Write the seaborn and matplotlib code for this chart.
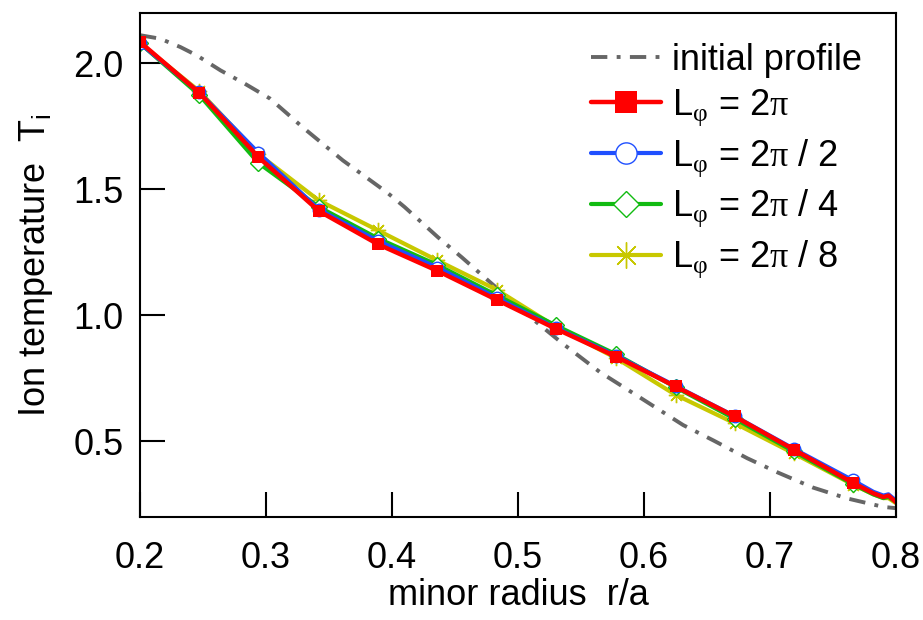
import matplotlib
matplotlib.use("Agg")
import matplotlib.pyplot as plt
import seaborn as sns
import pandas as pd

# ---------------- data ----------------
r_init = [0.200, 0.216, 0.232, 0.245, 0.264, 0.283, 0.303, 0.317, 0.329, 0.361,
          0.396, 0.410, 0.4365, 0.4555, 0.478, 0.500, 0.513, 0.535, 0.565, 0.595,
          0.631, 0.655, 0.682, 0.706, 0.734, 0.761, 0.790, 0.800]
T_init = [2.112, 2.098, 2.065, 2.032, 1.972, 1.920, 1.861, 1.800, 1.747, 1.615,
          1.488, 1.430, 1.310, 1.230, 1.131, 1.036, 0.980, 0.890, 0.775, 0.680,
          0.565, 0.504, 0.433, 0.377, 0.317, 0.274, 0.240, 0.235]

r = [0.200, 0.247, 0.294, 0.342, 0.389, 0.436, 0.483, 0.530, 0.578, 0.625,
     0.672, 0.719, 0.766, 0.782, 0.790, 0.794, 0.800]
T_2pi = [2.085, 1.884, 1.628, 1.414, 1.282, 1.177, 1.062, 0.947, 0.836, 0.718,
         0.599, 0.467, 0.335, 0.294, 0.279, 0.285, 0.259]
T_2pi_2 = [2.080, 1.885, 1.645, 1.420, 1.295, 1.190, 1.070, 0.950, 0.840, 0.720,
           0.600, 0.470, 0.345, 0.300, 0.285, 0.290, 0.265]
T_2pi_4 = [2.080, 1.875, 1.605, 1.430, 1.305, 1.200, 1.080, 0.960, 0.845, 0.715,
           0.590, 0.460, 0.330, 0.290, 0.275, 0.280, 0.260]
T_2pi_8 = [2.080, 1.890, 1.640, 1.456, 1.337, 1.218, 1.102, 0.955, 0.830, 0.685,
           0.572, 0.452, 0.328, 0.290, 0.275, 0.275, 0.255]
n_markers = 13

x_ticks = [0.2, 0.3, 0.4, 0.5, 0.6, 0.7, 0.8]
y_ticks = [0.5, 1.0, 1.5, 2.0]

labels = ["initial profile",
          r"L$_{\mathrm{\varphi}}$ = 2$\mathrm{\pi}$",
          r"L$_{\mathrm{\varphi}}$ = 2$\mathrm{\pi}$ / 2",
          r"L$_{\mathrm{\varphi}}$ = 2$\mathrm{\pi}$ / 4",
          r"L$_{\mathrm{\varphi}}$ = 2$\mathrm{\pi}$ / 8"]

# ---------------- style ----------------
sns.set_style("white")
plt.rcParams["font.family"] = ["Liberation Sans", "DejaVu Sans"]
plt.rcParams["mathtext.fontset"] = "custom"
plt.rcParams["mathtext.rm"] = "Liberation Serif"
plt.rcParams["mathtext.sf"] = "Liberation Sans"
plt.rcParams["mathtext.it"] = "Liberation Sans:italic"
plt.rcParams["text.color"] = "black"
plt.rcParams["axes.labelcolor"] = "black"
plt.rcParams["xtick.color"] = "black"
plt.rcParams["ytick.color"] = "black"

FS = 26
fig = plt.figure(figsize=(9.23, 6.2), dpi=100)
ax = fig.add_axes([140 / 923, 1 - 517 / 620, 756 / 923, 504 / 620])

GRAY, RED, BLUE, GREEN, YELLOW = "#666666", "#ff0000", "#1f4fff", "#11bb11", "#c8c800"
mk = list(range(n_markers))

sns.lineplot(x=r_init, y=T_init, ax=ax, sort=False, estimator=None, color=GRAY, lw=2.8, zorder=1)
l_init = ax.lines[-1]
l_init.set_linestyle((0, (4.2, 2.4, 1.0, 2.4)))

sns.lineplot(x=r, y=T_2pi_8, ax=ax, sort=False, estimator=None, color=YELLOW, lw=3.0,
             marker=(8, 2, 0), ms=11, mec=YELLOW, mew=1.0, markevery=mk, zorder=2)
l8 = ax.lines[-1]
sns.lineplot(x=r, y=T_2pi_4, ax=ax, sort=False, estimator=None, color=GREEN, lw=3.0,
             marker="D", ms=8, mfc="white", mec=GREEN, mew=1.0, markevery=mk, zorder=3)
l4 = ax.lines[-1]
sns.lineplot(x=r, y=T_2pi_2, ax=ax, sort=False, estimator=None, color=BLUE, lw=3.0,
             marker="o", ms=9, mfc="white", mec=BLUE, mew=1.0, markevery=mk, zorder=4)
l2 = ax.lines[-1]
sns.lineplot(x=r, y=T_2pi, ax=ax, sort=False, estimator=None, color=RED, lw=3.2,
             marker="s", ms=9, mfc=RED, mec=RED, mew=0, markevery=mk, zorder=5)
l1 = ax.lines[-1]

ax.set_xlim(0.2, 0.8)
ax.set_ylim(0.2, 2.2)
ax.set_xticks(x_ticks)
ax.set_xticklabels([f"{v:.1f}" for v in x_ticks])
ax.set_yticks(y_ticks)
ax.set_yticklabels([f"{v:.1f}" for v in y_ticks])
ax.tick_params(axis="both", which="major", direction="in", length=18, width=1.5,
               labelsize=FS, color="black", labelcolor="black",
               bottom=True, left=True, top=False, right=False)
ax.tick_params(axis="x", pad=17)
ax.tick_params(axis="y", pad=12)
for s in ax.spines.values():
    s.set_linewidth(1.5)
    s.set_color("black")
    s.set_zorder(10)

ax.set_xlabel("minor radius  r/a", fontsize=FS)
ax.set_ylabel(r"Ion temperature  T$_{\mathsf{i}}$", fontsize=FS)
ax.xaxis.set_label_coords(0.5, (517 - 578) / 504)
ax.yaxis.set_label_coords((55 - 140) / 756, 0.5)

leg = ax.legend([l_init, l1, l2, l4, l8], labels, loc="upper right",
                bbox_to_anchor=((862 - 140) / 756, (517 - 43) / 504),
                frameon=False, fontsize=FS, handlelength=1.96, handletextpad=0.3,
                labelspacing=0.26, borderpad=0, borderaxespad=0, markerscale=1.7)

fig.savefig("out.png", dpi=100)
